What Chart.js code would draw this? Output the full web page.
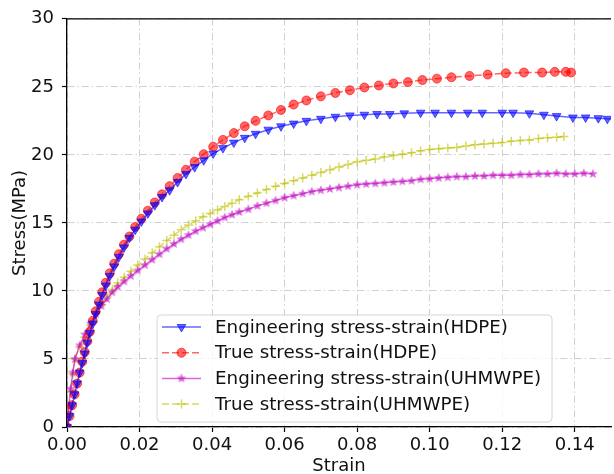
<!DOCTYPE html>
<html>
<head>
<meta charset="utf-8">
<script src="https://cdn.jsdelivr.net/npm/chart.js@4"></script>
<style>
  html, body { margin: 0; padding: 0; overflow: hidden; background: #fff; }
</style>
</head>
<body>
<canvas id="chart" width="617" height="474"></canvas>
<script>
// values
const seriesLabels = [
  'Engineering stress-strain(HDPE)',
  'True stress-strain(HDPE)',
  'Engineering stress-strain(UHMWPE)',
  'True stress-strain(UHMWPE)',
];

const hdpeEngStrain = [0, 0.0007, 0.0014, 0.0021, 0.0028, 0.0035, 0.0042, 0.0049, 0.0056, 0.0063,
  0.0071, 0.0079, 0.0088, 0.0097, 0.0107, 0.0118, 0.013, 0.0143, 0.0157, 0.0172,
  0.0188, 0.0205, 0.0223, 0.0242, 0.0262, 0.0283, 0.0305, 0.0328, 0.0352, 0.0377,
  0.0403, 0.043, 0.046, 0.049, 0.052, 0.0555, 0.059, 0.0625, 0.066, 0.07,
  0.074, 0.078, 0.082, 0.0855, 0.089, 0.093, 0.0975, 0.1015, 0.106, 0.1105,
  0.1145, 0.12, 0.123, 0.1275, 0.1315, 0.135, 0.1395, 0.143, 0.1465, 0.149, 0.152];
const hdpeEngStress = [0, 0.8, 1.6, 2.4, 3.2, 4.0, 4.7, 5.4, 6.2, 6.9,
  7.6, 8.3, 9.0, 9.7, 10.4, 11.1, 11.8, 12.5, 13.2, 13.9,
  14.5, 15.1, 15.7, 16.3, 16.9, 17.4, 18.0, 18.6, 19.1, 19.6,
  20.1, 20.5, 20.9, 21.25, 21.55, 21.85, 22.1, 22.3, 22.5, 22.65,
  22.8, 22.9, 22.95, 23.0, 23.0, 23.05, 23.1, 23.1, 23.1, 23.1,
  23.1, 23.1, 23.1, 23.05, 22.95, 22.85, 22.75, 22.75, 22.7, 22.65, 22.6];

const hdpeTrueStrain = [0, 0.0007, 0.0014, 0.0021, 0.0028, 0.0035, 0.0042, 0.0049, 0.0056, 0.0063,
  0.0071, 0.0079, 0.0088, 0.0097, 0.0107, 0.0118, 0.013, 0.0143, 0.0157, 0.0172,
  0.0188, 0.0205, 0.0223, 0.0242, 0.0262, 0.0283, 0.0305, 0.0328, 0.0352, 0.0377,
  0.0403, 0.043, 0.046, 0.049, 0.052, 0.0555, 0.059, 0.0625, 0.066, 0.07,
  0.074, 0.078, 0.082, 0.086, 0.09, 0.094, 0.098, 0.102, 0.106, 0.111,
  0.116, 0.121, 0.126, 0.131, 0.1345, 0.1375, 0.139];
const hdpeTrueStress = [0, 0.8, 1.6, 2.4, 3.2, 4.0, 4.8, 5.5, 6.3, 7.0,
  7.8, 8.5, 9.2, 9.9, 10.6, 11.3, 12.0, 12.7, 13.4, 14.0,
  14.7, 15.3, 15.9, 16.5, 17.1, 17.7, 18.3, 18.9, 19.5, 20.05,
  20.6, 21.1, 21.6, 22.1, 22.5, 22.9, 23.3, 23.7, 24.0, 24.3,
  24.55, 24.75, 24.95, 25.1, 25.25, 25.35, 25.5, 25.6, 25.7, 25.8,
  25.9, 26.0, 26.05, 26.05, 26.1, 26.1, 26.05];

const uhmwEngStrain = [0, 0.0005, 0.001, 0.0016, 0.0022, 0.0035, 0.0049, 0.0065, 0.008, 0.0095,
  0.011, 0.0125, 0.014, 0.0158, 0.0176, 0.0195, 0.0215, 0.0235, 0.0255, 0.0275,
  0.0295, 0.0315, 0.0335, 0.0355, 0.0375, 0.0395, 0.0415, 0.0435, 0.0455, 0.0475,
  0.05, 0.0525, 0.055, 0.0575, 0.06, 0.0625, 0.065, 0.0675, 0.07, 0.0725,
  0.075, 0.0775, 0.08, 0.0825, 0.085, 0.0875, 0.09, 0.0925, 0.095, 0.0975,
  0.1, 0.1025, 0.105, 0.1075, 0.11, 0.1125, 0.115, 0.1175, 0.12, 0.1225,
  0.125, 0.1275, 0.13, 0.1325, 0.135, 0.1375, 0.14, 0.1425, 0.145];
const uhmwEngStress = [0, 1.5, 2.8, 4.0, 5.0, 6.0, 6.8, 7.6, 8.3, 8.9,
  9.4, 9.9, 10.3, 10.7, 11.1, 11.5, 11.9, 12.3, 12.7, 13.1,
  13.45, 13.8, 14.1, 14.4, 14.65, 14.9, 15.15, 15.4, 15.6, 15.8,
  16.0, 16.25, 16.45, 16.65, 16.85, 17.0, 17.15, 17.3, 17.4, 17.5,
  17.6, 17.7, 17.8, 17.85, 17.9, 17.95, 18.0, 18.05, 18.1, 18.2,
  18.25, 18.3, 18.35, 18.4, 18.4, 18.45, 18.45, 18.5, 18.5, 18.5,
  18.55, 18.55, 18.6, 18.6, 18.65, 18.6, 18.6, 18.65, 18.6];

const uhmwTrueStrain = [0, 0.0005, 0.001, 0.0016, 0.0022, 0.0035, 0.0049, 0.0065, 0.008, 0.0095,
  0.011, 0.0125, 0.014, 0.0158, 0.0176, 0.0195, 0.0215, 0.0235, 0.0255, 0.0275,
  0.0295, 0.0315, 0.0335, 0.0355, 0.0375, 0.0395, 0.0415, 0.0435, 0.0455, 0.0475,
  0.05, 0.0525, 0.055, 0.0575, 0.06, 0.0625, 0.065, 0.0675, 0.07, 0.0725,
  0.075, 0.0775, 0.08, 0.0825, 0.085, 0.0875, 0.09, 0.0925, 0.095, 0.0975,
  0.1, 0.1025, 0.105, 0.1075, 0.11, 0.1125, 0.115, 0.1175, 0.12, 0.1225,
  0.125, 0.1275, 0.13, 0.1325, 0.135, 0.137];
const uhmwTrueStress = [0, 1.4, 2.6, 3.9, 5.0, 5.9, 6.6, 7.5, 8.3, 9.0,
  9.6, 10.1, 10.6, 11.0, 11.45, 11.9, 12.35, 12.8, 13.25, 13.7,
  14.1, 14.5, 14.85, 15.15, 15.45, 15.7, 15.95, 16.2, 16.45, 16.7,
  16.95, 17.2, 17.45, 17.7, 17.9, 18.1, 18.3, 18.5, 18.7, 18.9,
  19.1, 19.3, 19.5, 19.6, 19.7, 19.85, 19.95, 20.05, 20.15, 20.3,
  20.4, 20.45, 20.5, 20.55, 20.65, 20.75, 20.8, 20.85, 20.9, 21.0,
  21.05, 21.1, 21.2, 21.25, 21.3, 21.35];

const xTickValues = [0, 0.02, 0.04, 0.06, 0.08, 0.10, 0.12, 0.14];
const yTickValues = [0, 5, 10, 15, 20, 25, 30];

const FONT = { family: 'DejaVu Sans', size: 18 };
const BLUE = 'rgba(0, 0, 255, 0.6)';
const RED = 'rgba(255, 0, 0, 0.6)';
const MAGENTA = 'rgba(191, 0, 191, 0.6)';
const YELLOW = 'rgba(191, 191, 0, 0.6)';

const toPoints = (xs, ys) => xs.map((x, i) => ({ x, y: ys[i] }));

// filled 5-point star, Chart.js only has the line version
function makeStar(color, r) {
  const c = document.createElement('canvas');
  const s = Math.ceil(r * 2 + 2);
  c.width = c.height = s;
  const g = c.getContext('2d');
  g.beginPath();
  for (let i = 0; i < 10; i++) {
    const rr = i % 2 ? r * 0.45 : r;
    const a = -Math.PI / 2 + i * Math.PI / 5;
    g.lineTo(s / 2 + rr * Math.cos(a), s / 2 + rr * Math.sin(a));
  }
  g.closePath();
  g.fillStyle = color;
  g.fill();
  return c;
}

const gridStyle = {
  color: '#d0d0d0',
  lineWidth: 1,
  tickLength: 5,
  tickColor: '#000',
  tickWidth: 1.2,
  tickBorderDash: [],
};
// in v4 the dash of the grid lines lives under border
const borderStyle = { display: true, color: '#000', width: 1.3, dash: [7, 3, 1.5, 3] };

// matplotlib-style legend in the lower middle of the plot
const boxLegend = {
  id: 'boxLegend',
  afterDraw(chart) {
    const ctx = chart.ctx;
    const left = 157, top = 315, w = 395, h = 107;
    ctx.save();
    ctx.beginPath();
    ctx.roundRect(left, top, w, h, 4);
    ctx.fillStyle = 'rgba(255,255,255,0.8)';
    ctx.fill();
    ctx.strokeStyle = '#d6d6d6';
    ctx.lineWidth = 1;
    ctx.stroke();
    chart.data.datasets.forEach((ds, i) => {
      const y = 327 + i * 25.7;
      ctx.beginPath();
      ctx.setLineDash(ds.borderDash || []);
      ctx.strokeStyle = ds.borderColor;
      ctx.lineWidth = ds.borderWidth;
      ctx.moveTo(162, y);
      ctx.lineTo(201, y);
      ctx.stroke();
      ctx.setLineDash([]);
      ctx.fillStyle = ds.pointBackgroundColor;
      ctx.strokeStyle = ds.pointBorderColor;
      ctx.lineWidth = ds.pointBorderWidth;
      Chart.helpers.drawPoint(ctx, {
        pointStyle: ds.pointStyle,
        rotation: ds.pointRotation || 0,
        radius: ds.pointRadius,
        borderWidth: ds.pointBorderWidth,
      }, 181.5, y);
      ctx.fillStyle = '#111';
      ctx.font = `18.3px ${FONT.family}`;
      ctx.textBaseline = 'middle';
      ctx.fillText(ds.label, 215, y + 1);
    });
    ctx.restore();
  },
};

// top spine
const topSpine = {
  id: 'topSpine',
  afterDraw(chart) {
    const { ctx, chartArea } = chart;
    ctx.save();
    ctx.strokeStyle = '#000';
    ctx.lineWidth = 1.3;
    ctx.beginPath();
    ctx.moveTo(chartArea.left, chartArea.top);
    ctx.lineTo(chartArea.right, chartArea.top);
    ctx.stroke();
    ctx.restore();
  },
};

const ctx = document.getElementById('chart').getContext('2d');
new Chart(ctx, {
  type: 'scatter',
  data: {
    datasets: [
      {
        label: seriesLabels[0],
        data: toPoints(hdpeEngStrain, hdpeEngStress),
        showLine: true,
        borderColor: BLUE,
        borderWidth: 1.5,
        borderDash: [],
        pointStyle: 'triangle',
        pointRotation: 180,
        pointRadius: 5,
        pointBackgroundColor: BLUE,
        pointBorderColor: BLUE,
        pointBorderWidth: 1,
      },
      {
        label: seriesLabels[1],
        data: toPoints(hdpeTrueStrain, hdpeTrueStress),
        showLine: true,
        borderColor: RED,
        borderWidth: 1.5,
        borderDash: [7, 3],
        pointStyle: 'circle',
        pointRadius: 4.5,
        pointBackgroundColor: RED,
        pointBorderColor: RED,
        pointBorderWidth: 1,
      },
      {
        label: seriesLabels[2],
        data: toPoints(uhmwEngStrain, uhmwEngStress),
        showLine: true,
        borderColor: MAGENTA,
        borderWidth: 1.5,
        borderDash: [],
        pointStyle: makeStar(MAGENTA, 5),
        pointRadius: 4,
        pointBackgroundColor: MAGENTA,
        pointBorderColor: MAGENTA,
        pointBorderWidth: 0,
      },
      {
        label: seriesLabels[3],
        data: toPoints(uhmwTrueStrain, uhmwTrueStress),
        showLine: true,
        borderColor: YELLOW,
        borderWidth: 1.5,
        borderDash: [7, 3],
        pointStyle: 'cross',
        pointRadius: 4.5,
        pointBackgroundColor: YELLOW,
        pointBorderColor: YELLOW,
        pointBorderWidth: 1.5,
      },
    ],
  },
  options: {
    responsive: false,
    animation: false,
    layout: { padding: { left: 0, right: 0, top: 18, bottom: 0 } },
    plugins: {
      legend: { display: false },
      tooltip: { enabled: false },
    },
    scales: {
      x: {
        type: 'linear',
        min: 0,
        max: 0.15,
        afterBuildTicks: (scale) => { scale.ticks = xTickValues.map((v) => ({ value: v })); },
        afterFit: (scale) => { scale.height = 47; },
        ticks: {
          font: FONT,
          color: '#111',
          padding: 3,
          maxRotation: 0,
          callback: (v) => Number(v).toFixed(2),
        },
        grid: gridStyle,
        border: borderStyle,
        title: {
          display: true,
          text: 'Strain',
          font: FONT,
          color: '#111',
          padding: { top: 0, bottom: -3 },
        },
      },
      y: {
        min: 0,
        max: 30,
        afterBuildTicks: (scale) => { scale.ticks = yTickValues.map((v) => ({ value: v })); },
        afterFit: (scale) => { scale.width = 67; },
        ticks: { font: FONT, color: '#111', padding: 8 },
        grid: gridStyle,
        border: borderStyle,
        title: {
          display: true,
          text: 'Stress(MPa)',
          font: FONT,
          color: '#111',
          padding: { top: 10, bottom: 0 },
        },
      },
    },
  },
  plugins: [boxLegend, topSpine],
});
</script>
</body>
</html>
